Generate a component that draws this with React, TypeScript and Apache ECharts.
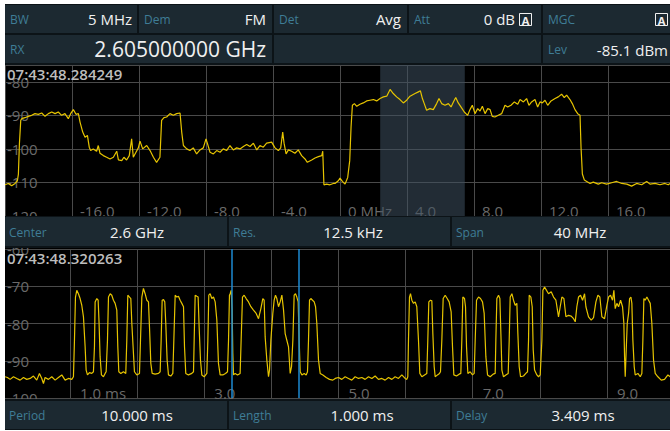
import React, { useEffect, useRef } from "react";
import * as echarts from "echarts";

const FONT = '"Open Sans", "Noto Sans", sans-serif';

// ---- data ----
const statusRow1: [string, string][] = [
  ["BW", "5 MHz"],
  ["Dem", "FM"],
  ["Det", "Avg"],
  ["Att", "0 dB"],
  ["MGC", ""],
];
const statusRow2: [string, string][] = [
  ["RX", "2.605000000 GHz"],
  ["", ""],
  ["Lev", "-85.1 dBm"],
];
const sweepRow: [string, string][] = [
  ["Center", "2.6 GHz"],
  ["Res.", "12.5 kHz"],
  ["Span", "40 MHz"],
];
const gateRow: [string, string][] = [
  ["Period", "10.000 ms"],
  ["Length", "1.000 ms"],
  ["Delay", "3.409 ms"],
];
const timestamps = ["07:43:48.284249", "07:43:48.320263"];

const channelBand = [2.4, 7.45]; // MHz
const gateDelay = 3.409; // ms
const gateLength = 1.0; // ms

// spectrum trace: [offset MHz, level dBm]
const spectrumTrace: [number, number][] = [
  [-20.0, -110.7], [-19.8, -110.3], [-19.6, -111.0], [-19.4, -110.3], [-19.26, -109.5], [-19.2, -107.5],
  [-19.14, -98.5], [-19.06, -91.5], [-19.0, -91.0], [-18.81, -90.7], [-18.61, -90.3], [-18.41, -90.0],
  [-18.21, -89.5], [-18.01, -89.7], [-17.81, -89.3], [-17.61, -90.3], [-17.41, -89.5], [-17.21, -89.0],
  [-17.01, -89.5], [-16.82, -89.0], [-16.62, -90.0], [-16.42, -89.5], [-16.22, -91.0], [-16.08, -89.5],
  [-15.92, -88.3], [-15.76, -89.7], [-15.62, -89.5], [-15.52, -92.0], [-15.36, -95.0], [-15.22, -96.5],
  [-15.08, -96.0], [-14.97, -99.5], [-14.89, -100.5], [-14.73, -100.0], [-14.53, -100.7], [-14.43, -99.0],
  [-14.33, -101.3], [-14.13, -102.0], [-13.93, -102.5], [-13.73, -103.0], [-13.53, -102.5], [-13.33, -100.7],
  [-13.23, -103.3], [-13.03, -103.5], [-12.9, -102.5], [-12.74, -103.3], [-12.58, -102.0], [-12.44, -97.0],
  [-12.34, -102.5], [-12.18, -101.0], [-12.04, -99.7], [-11.94, -97.7], [-11.78, -100.0], [-11.54, -99.0],
  [-11.34, -100.5], [-11.14, -102.5], [-10.95, -104.0], [-10.75, -102.5], [-10.65, -91.5], [-10.51, -90.7],
  [-10.35, -90.5], [-10.15, -89.5], [-9.95, -90.0], [-9.75, -89.5], [-9.55, -89.3], [-9.45, -95.0],
  [-9.35, -99.0], [-9.15, -100.0], [-8.96, -100.5], [-8.76, -99.7], [-8.56, -101.5], [-8.36, -100.3],
  [-8.16, -99.7], [-8.0, -97.0], [-7.92, -98.3], [-7.76, -101.0], [-7.56, -101.5], [-7.36, -100.5],
  [-7.16, -101.0], [-6.97, -100.0], [-6.77, -100.5], [-6.57, -99.0], [-6.37, -100.3], [-6.17, -99.7],
  [-5.97, -100.0], [-5.77, -99.3], [-5.57, -98.7], [-5.37, -99.3], [-5.17, -98.3], [-4.97, -100.3],
  [-4.78, -99.0], [-4.58, -99.5], [-4.38, -98.3], [-4.08, -98.0], [-3.88, -99.7], [-3.68, -100.5],
  [-3.54, -99.7], [-3.42, -95.0], [-3.34, -98.3], [-3.22, -101.5], [-3.08, -100.3], [-2.89, -100.7],
  [-2.69, -101.3], [-2.49, -100.3], [-2.29, -102.0], [-2.09, -103.0], [-1.95, -104.0], [-1.69, -103.3],
  [-1.49, -102.7], [-1.29, -102.3], [-1.09, -102.0], [-1.03, -100.7], [-0.96, -110.7], [-0.8, -110.5],
  [-0.6, -110.7], [-0.4, -110.3], [-0.3, -110.3], [-0.1, -109.5], [0.0, -108.7], [0.14, -109.7],
  [0.3, -110.5], [0.46, -108.5], [0.58, -103.5], [0.66, -93.5], [0.74, -87.0], [0.86, -86.5],
  [1.0, -87.3], [1.19, -86.7], [1.39, -86.3], [1.59, -85.7], [1.79, -85.5], [1.99, -85.3],
  [2.19, -85.7], [2.39, -85.0], [2.59, -84.5], [2.79, -84.3], [2.99, -82.3], [3.18, -83.5],
  [3.38, -84.5], [3.58, -85.3], [3.78, -86.3], [3.98, -85.5], [4.18, -84.3], [4.48, -83.5],
  [4.68, -83.0], [4.8, -82.7], [4.92, -85.0], [5.03, -86.5], [5.17, -88.5], [5.37, -88.0],
  [5.57, -88.3], [5.77, -86.5], [5.91, -85.0], [6.07, -86.5], [6.27, -87.0], [6.47, -86.5],
  [6.63, -87.5], [6.77, -86.0], [6.91, -84.7], [7.06, -86.3], [7.22, -87.5], [7.42, -89.0],
  [7.62, -90.0], [7.76, -88.3], [7.9, -87.0], [8.06, -89.5], [8.22, -88.0], [8.36, -88.7],
  [8.5, -87.3], [8.66, -89.5], [8.82, -88.0], [8.96, -88.3], [9.09, -90.3], [9.25, -90.5],
  [9.45, -90.0], [9.65, -89.5], [9.85, -87.0], [10.01, -87.5], [10.21, -87.0], [10.41, -86.0],
  [10.61, -86.7], [10.75, -85.3], [10.95, -86.0], [11.14, -85.0], [11.28, -87.0], [11.44, -86.0],
  [11.64, -85.3], [11.8, -87.5], [11.94, -86.0], [12.08, -86.3], [12.24, -85.5], [12.4, -87.0],
  [12.6, -85.7], [12.84, -85.0], [13.03, -84.5], [13.23, -83.7], [13.39, -84.7], [13.53, -84.0],
  [13.73, -85.3], [13.87, -86.5], [14.03, -88.3], [14.19, -89.5], [14.33, -90.0], [14.39, -99.5],
  [14.47, -107.5], [14.59, -109.3], [14.73, -109.7], [14.93, -110.3], [15.12, -109.9], [15.42, -110.5],
  [15.62, -110.1], [15.92, -110.5], [16.22, -110.1], [16.52, -109.7], [16.82, -110.3], [17.12, -110.5],
  [17.41, -111.1], [17.71, -110.3], [18.01, -110.7], [18.31, -109.7], [18.51, -110.5], [18.81, -110.3],
  [19.1, -110.7], [19.4, -110.3], [19.6, -110.7], [19.7, -110.3],
];

// zero-span trace: [time ms, level dBm]
const burstTrace: [number, number][] = [
  [0.031, -94.3], [0.066, -94.5], [0.106, -95.0], [0.156, -94.3], [0.205, -94.75], [0.255, -95.2],
  [0.305, -94.5], [0.354, -95.0], [0.404, -94.75], [0.454, -94.1], [0.503, -95.2], [0.543, -93.4],
  [0.578, -94.75], [0.603, -96.1], [0.627, -94.5], [0.677, -95.0], [0.727, -94.3], [0.777, -95.2],
  [0.826, -94.5], [0.876, -93.8], [0.926, -95.2], [0.975, -94.75], [1.025, -95.0],
  [1.05, -94.3], [1.065, -84.5], [1.08, -72.9], [1.1, -71.1], [1.124, -72.0], [1.149, -73.3],
  [1.174, -75.1], [1.199, -78.2], [1.224, -86.25], [1.239, -92.5], [1.259, -93.8], [1.288, -93.2],
  [1.323, -93.4], [1.348, -92.95],
  [1.363, -86.25], [1.373, -74.2], [1.398, -73.3], [1.418, -73.75], [1.432, -80.0], [1.447, -88.9],
  [1.467, -93.8], [1.497, -94.3], [1.522, -93.4], [1.537, -92.95],
  [1.557, -84.5], [1.572, -72.9], [1.597, -72.0], [1.621, -72.4], [1.646, -73.75], [1.671, -74.6],
  [1.696, -76.4], [1.711, -86.25], [1.726, -92.95], [1.756, -93.4], [1.795, -92.95], [1.83, -93.4],
  [1.845, -84.5], [1.86, -72.4], [1.885, -72.9], [1.905, -73.3], [1.92, -80.0], [1.944, -88.0],
  [1.959, -92.95], [1.994, -93.8], [2.034, -93.4],
  [2.049, -84.5], [2.069, -72.9], [2.093, -70.6], [2.118, -72.0], [2.143, -73.75], [2.168, -74.2],
  [2.183, -80.9], [2.203, -90.7], [2.223, -93.4], [2.267, -93.6], [2.317, -93.4], [2.342, -92.95],
  [2.357, -84.5], [2.372, -73.75], [2.392, -73.6], [2.411, -74.2], [2.426, -80.0], [2.446, -89.8],
  [2.466, -93.8], [2.501, -94.1], [2.531, -93.4],
  [2.546, -84.5], [2.566, -72.4], [2.59, -72.9], [2.615, -72.7], [2.64, -73.75], [2.665, -74.6],
  [2.69, -75.5], [2.705, -86.25], [2.724, -93.4], [2.764, -93.8], [2.814, -93.4], [2.839, -92.95],
  [2.849, -84.5], [2.864, -72.4], [2.889, -72.7], [2.908, -72.9], [2.923, -80.9], [2.943, -89.8],
  [2.963, -93.8], [2.998, -94.3], [3.038, -93.4],
  [3.053, -84.5], [3.067, -72.4], [3.087, -72.0], [3.112, -73.3], [3.137, -72.9], [3.162, -74.2],
  [3.187, -79.1], [3.211, -90.7], [3.236, -93.8], [3.276, -93.8], [3.316, -93.4], [3.346, -92.95],
  [3.361, -84.5], [3.375, -72.4], [3.385, -72.0], [3.4, -71.1], [3.415, -76.4], [3.425, -88.0],
  [3.435, -93.8], [3.46, -93.4], [3.495, -93.8], [3.534, -93.4],
  [3.549, -84.5], [3.569, -72.9], [3.594, -72.4], [3.624, -73.3], [3.659, -74.2], [3.694, -75.5],
  [3.733, -76.4], [3.773, -77.3], [3.808, -78.7], [3.843, -76.0], [3.872, -73.3], [3.892, -73.75],
  [3.907, -83.6], [3.932, -89.8], [3.957, -94.3], [3.972, -92.5],
  [3.992, -84.5], [4.021, -77.3], [4.041, -73.75], [4.061, -72.4], [4.081, -73.3], [4.106, -75.5],
  [4.131, -74.2], [4.156, -72.4], [4.181, -76.4], [4.205, -82.7], [4.23, -84.5], [4.255, -86.25],
  [4.28, -93.4], [4.3, -91.6], [4.32, -84.5], [4.339, -72.4], [4.359, -72.0], [4.379, -72.9],
  [4.399, -74.2], [4.414, -84.5], [4.429, -92.95], [4.454, -93.8], [4.489, -93.4], [4.518, -93.8],
  [4.538, -92.95],
  [4.553, -84.5], [4.568, -73.75], [4.588, -73.3], [4.613, -73.75], [4.638, -74.2], [4.658, -75.5],
  [4.677, -80.0], [4.702, -89.8], [4.727, -93.4], [4.767, -93.8], [4.817, -94.5], [4.866, -95.0],
  [4.916, -95.2], [4.951, -94.75],
  [5.0, -94.5], [5.049, -95.0], [5.099, -94.3], [5.149, -94.75], [5.198, -95.2], [5.248, -94.3],
  [5.298, -94.75], [5.348, -94.5], [5.397, -95.0], [5.447, -94.3], [5.497, -94.75], [5.546, -94.1],
  [5.596, -95.0], [5.646, -94.75], [5.695, -95.2], [5.745, -94.5], [5.795, -95.0], [5.844, -94.3],
  [5.894, -94.75], [5.944, -93.8], [5.993, -94.75], [6.018, -95.0],
  [6.033, -94.3], [6.043, -84.5], [6.058, -72.9], [6.073, -72.0], [6.093, -73.75], [6.118, -74.6],
  [6.143, -74.2], [6.167, -75.5], [6.192, -84.5], [6.212, -93.4], [6.242, -94.3], [6.282, -93.8],
  [6.316, -93.4],
  [6.331, -84.5], [6.346, -74.2], [6.371, -73.75], [6.391, -73.9], [6.406, -82.7], [6.426, -91.6],
  [6.441, -94.3], [6.475, -93.8], [6.505, -93.4], [6.52, -92.95],
  [6.54, -84.5], [6.56, -73.3], [6.59, -72.4], [6.62, -73.3], [6.649, -74.2], [6.679, -76.9],
  [6.699, -86.25], [6.719, -93.8], [6.759, -94.1], [6.798, -93.6], [6.823, -93.4],
  [6.838, -84.5], [6.853, -72.9], [6.878, -73.3], [6.893, -75.5], [6.908, -86.25], [6.928, -93.4],
  [6.962, -92.95], [6.997, -93.8], [7.022, -93.4],
  [7.037, -84.5], [7.057, -73.75], [7.087, -72.9], [7.116, -73.3], [7.146, -74.2], [7.171, -77.3],
  [7.196, -88.9], [7.221, -93.8], [7.261, -94.3], [7.305, -93.6], [7.335, -93.4],
  [7.345, -84.5], [7.36, -73.3], [7.385, -72.4], [7.405, -73.3], [7.42, -82.7], [7.435, -92.5],
  [7.459, -94.3], [7.494, -93.8], [7.529, -93.4],
  [7.544, -84.5], [7.559, -72.9], [7.584, -72.0], [7.608, -73.75], [7.633, -75.1], [7.658, -74.6],
  [7.673, -82.7], [7.693, -91.6], [7.713, -94.3], [7.757, -94.1], [7.792, -93.4], [7.817, -92.95],
  [7.832, -84.5], [7.842, -72.4], [7.867, -72.9], [7.887, -75.5], [7.902, -87.1], [7.922, -92.5],
  [7.956, -93.8], [7.981, -94.3], [8.006, -93.8],
  [8.031, -84.5], [8.046, -71.1], [8.071, -70.2], [8.1, -71.1], [8.13, -72.0], [8.17, -71.5],
  [8.205, -72.9], [8.24, -73.75], [8.279, -78.2], [8.304, -75.5], [8.329, -72.9], [8.359, -73.3],
  [8.389, -78.2], [8.428, -77.8], [8.468, -78.0], [8.503, -78.7], [8.528, -79.55], [8.552, -75.5],
  [8.577, -72.9], [8.607, -72.4], [8.637, -73.75], [8.667, -72.0], [8.687, -75.5], [8.726, -78.2],
  [8.766, -79.1], [8.801, -78.4], [8.836, -74.2], [8.866, -72.4], [8.895, -72.9], [8.925, -78.2],
  [8.965, -78.7], [9.0, -75.1], [9.025, -72.9], [9.054, -72.4], [9.084, -73.75], [9.104, -71.1],
  [9.124, -76.0], [9.149, -74.6], [9.174, -75.5], [9.204, -73.75], [9.233, -75.5], [9.253, -80.0],
  [9.263, -88.9], [9.273, -94.3], [9.288, -87.1], [9.303, -80.0], [9.323, -77.3], [9.338, -73.3],
  [9.358, -72.9], [9.372, -74.6], [9.387, -84.5], [9.407, -91.6], [9.422, -93.8], [9.462, -93.4],
  [9.497, -94.3], [9.521, -93.4],
  [9.536, -84.5], [9.551, -73.3], [9.571, -73.75], [9.596, -72.9], [9.621, -73.75], [9.646, -74.6],
  [9.67, -80.0], [9.695, -89.8], [9.72, -93.4], [9.76, -94.3], [9.81, -95.2], [9.859, -95.0],
  [9.909, -93.8], [9.944, -94.3],
];

// ---- styles ----
const TRACE = "#e6c400";
const GRID = "#4a4a4a";
const AXIS_TEXT = "#6a6a6a";
const CELL = "#1c2931";
const SEP = "#0c1317";
const LABEL = "#3f7d96";
const VALUE = "#f0f0f0";
const BAND = "rgba(62,80,97,0.55)";
const CURSOR = "#1c8ad2";

function txt(x: number, y: number, text: string, fill: string, font: string, align: string) {
  return {
    type: "text",
    x,
    y,
    z: 110,
    silent: true,
    style: {
      text,
      fill,
      font,
      align,
      verticalAlign: "middle",
      textAlign: align,
      textVerticalAlign: "middle",
    },
  };
}
function rect(x: number, y: number, w: number, h: number, fill: string, z: number) {
  return { type: "rect", z, silent: true, shape: { x, y, width: w, height: h }, style: { fill } };
}
function boxA(x: number, yMid: number) {
  return [
    {
      type: "rect",
      z: 111,
      silent: true,
      shape: { x: x + 0.5, y: yMid - 6.5, width: 12, height: 12 },
      style: { fill: "none", stroke: VALUE, lineWidth: 1 },
    },
    txt(x + 6.5, yMid, "A", VALUE, `bold 11px ${FONT}`, "center"),
  ];
}

export default function App() {
  const ref = useRef<HTMLDivElement>(null);
  useEffect(() => {
    const el = ref.current;
    if (!el) return;
    const chart = echarts.init(el, null, { renderer: "svg" });

    const g: any[] = [];
    // black plot panels
    g.push({ ...rect(5, 64, 675, 153, "#000000", 100), z: -10 });
    g.push({ ...rect(5, 247, 675, 153, "#000000", 100), z: -10 });

    // header
    g.push(rect(5, 4, 675, 61, SEP, 100));
    const r1 = [[5, 137], [139, 272], [274, 407], [409, 541], [543, 680]];
    const r1ValueRight = [132, 266, 401, 515, 0];
    r1.forEach(([a, b], i) => {
      g.push(rect(a, 5, b - a, 28, CELL, 101));
      g.push(txt(a + 5, 19, statusRow1[i][0], LABEL, `12px ${FONT}`, "left"));
      if (statusRow1[i][1]) g.push(txt(r1ValueRight[i], 19, statusRow1[i][1], VALUE, `15px ${FONT}`, "right"));
    });
    g.push(...boxA(519, 20));
    g.push(...boxA(655, 20));
    const r2 = [[5, 272], [274, 541], [543, 680]];
    r2.forEach(([a, b], i) => {
      g.push(rect(a, 35, b - a, 28, CELL, 101));
      if (statusRow2[i][0]) g.push(txt(a + 5, 49, statusRow2[i][0], LABEL, `12px ${FONT}`, "left"));
    });
    g.push(txt(266, 49, statusRow2[0][1], VALUE, `21px ${FONT}`, "right"));
    g.push(txt(668, 50, statusRow2[2][1], VALUE, `15px ${FONT}`, "right"));

    // info bars
    const cells3 = [[5, 227], [229, 450], [452, 680]];
    const sweepCenters = [137, 353, 580];
    const gateCenters = [137, 362, 583];
    g.push(rect(5, 216, 675, 32, SEP, 100));
    cells3.forEach(([a, b], i) => {
      g.push(rect(a, 217, b - a, 29, CELL, 101));
      g.push(txt(a + 4, 232, sweepRow[i][0], LABEL, `12px ${FONT}`, "left"));
      g.push(txt(sweepCenters[i], 232, sweepRow[i][1], VALUE, `15px ${FONT}`, "center"));
    });
    g.push(rect(5, 399, 675, 31, SEP, 100));
    cells3.forEach(([a, b], i) => {
      g.push(rect(a, 401, b - a, 28, CELL, 101));
      g.push(txt(a + 4, 415, gateRow[i][0], LABEL, `12px ${FONT}`, "left"));
      g.push(txt(gateCenters[i], 415, gateRow[i][1], VALUE, `15px ${FONT}`, "center"));
    });

    // timestamps
    g.push(txt(7, 74, timestamps[0], "#bdbdbd", `600 15px ${FONT}`, "left"));
    g.push(txt(7, 258, timestamps[1], "#bdbdbd", `600 15px ${FONT}`, "left"));

    // white left margin
    g.push(rect(0, 0, 5, 431, "#ffffff", 120));

    const split = { show: true, lineStyle: { color: GRID, width: 1, type: "solid" } };
    const labelBase = { color: AXIS_TEXT, fontSize: 15, fontFamily: FONT };

    const option: any = {
      animation: false,
      backgroundColor: "#ffffff",
      textStyle: { fontFamily: FONT },
      grid: [
        { left: 5, top: 65, width: 670, height: 151, outerBoundsMode: "none", containLabel: false },
        { left: 3, top: 249, width: 671, height: 149, outerBoundsMode: "none", containLabel: false },
      ],
      xAxis: [
        {
          type: "value",
          gridIndex: 0,
          min: -20,
          max: 20,
          interval: 4,
          axisLine: { show: false },
          axisTick: { show: false },
          splitLine: split,
          axisLabel: {
            ...labelBase,
            inside: true,
            margin: -2,
            align: "left",
            padding: [0, 0, 0, 8],
            showMinLabel: true,
            showMaxLabel: true,
            hideOverlap: false,
            formatter: (v: number) => (v === 0 ? "0 MHz" : Math.abs(v) === 20 ? "" : v.toFixed(1)),
          },
        },
        {
          type: "value",
          gridIndex: 1,
          min: 0,
          max: 10,
          interval: 1,
          axisLine: { show: false },
          axisTick: { show: false },
          splitLine: split,
          axisLabel: {
            ...labelBase,
            inside: true,
            margin: -2,
            align: "left",
            padding: [0, 0, 0, 10],
            showMinLabel: true,
            showMaxLabel: true,
            hideOverlap: false,
            formatter: (v: number) =>
              v === 1 ? "1.0 ms" : Math.round(v) % 2 === 1 ? v.toFixed(1) : "",
          },
        },
      ],
      yAxis: [
        {
          type: "value",
          gridIndex: 0,
          min: -120,
          max: -75,
          interval: 10,
          axisLine: { show: false },
          axisTick: { show: false },
          splitLine: split,
          axisLabel: {
            ...labelBase,
            inside: true,
            margin: 2,
            align: "left",
            showMinLabel: true,
            showMaxLabel: true,
            hideOverlap: false,
            formatter: (v: number) => (v % 10 === 0 ? String(v) : ""),
          },
        },
        {
          type: "value",
          gridIndex: 1,
          min: -100,
          max: -60,
          interval: 10,
          axisLine: { show: false },
          axisTick: { show: false },
          splitLine: split,
          axisLabel: {
            ...labelBase,
            inside: true,
            margin: 4,
            align: "left",
            showMinLabel: true,
            showMaxLabel: true,
            hideOverlap: false,
            formatter: (v: number) => String(v),
          },
        },
      ],
      series: [
        {
          type: "line",
          xAxisIndex: 0,
          yAxisIndex: 0,
          data: [],
          z: 1,
          silent: true,
          markArea: {
            silent: true,
            itemStyle: { color: BAND },
            data: [[{ xAxis: channelBand[0] }, { xAxis: channelBand[1] }]],
          },
        },
        {
          type: "line",
          xAxisIndex: 0,
          yAxisIndex: 0,
          data: spectrumTrace,
          symbol: "none",
          showSymbol: false,
          silent: true,
          z: 3,
          lineStyle: { color: TRACE, width: 1.2 },
        },
        {
          type: "line",
          xAxisIndex: 1,
          yAxisIndex: 1,
          data: burstTrace,
          symbol: "none",
          showSymbol: false,
          silent: true,
          z: 3,
          lineStyle: { color: TRACE, width: 1.2 },
        },
        {
          type: "line",
          xAxisIndex: 1,
          yAxisIndex: 1,
          data: [],
          z: 4,
          silent: true,
          markLine: {
            silent: true,
            symbol: ["none", "none"],
            label: { show: false },
            lineStyle: { color: CURSOR, width: 1.5, type: "solid" },
            emphasis: { disabled: true },
            data: [{ xAxis: gateDelay }, { xAxis: gateDelay + gateLength }],
          },
        },
      ],
      graphic: { elements: g },
    };
    chart.setOption(option);
    return () => chart.dispose();
  }, []);
  return (
    <div
      ref={ref}
      style={{ position: "fixed", left: 0, top: 0, width: 680, height: 431 }}
    />
  );
}
